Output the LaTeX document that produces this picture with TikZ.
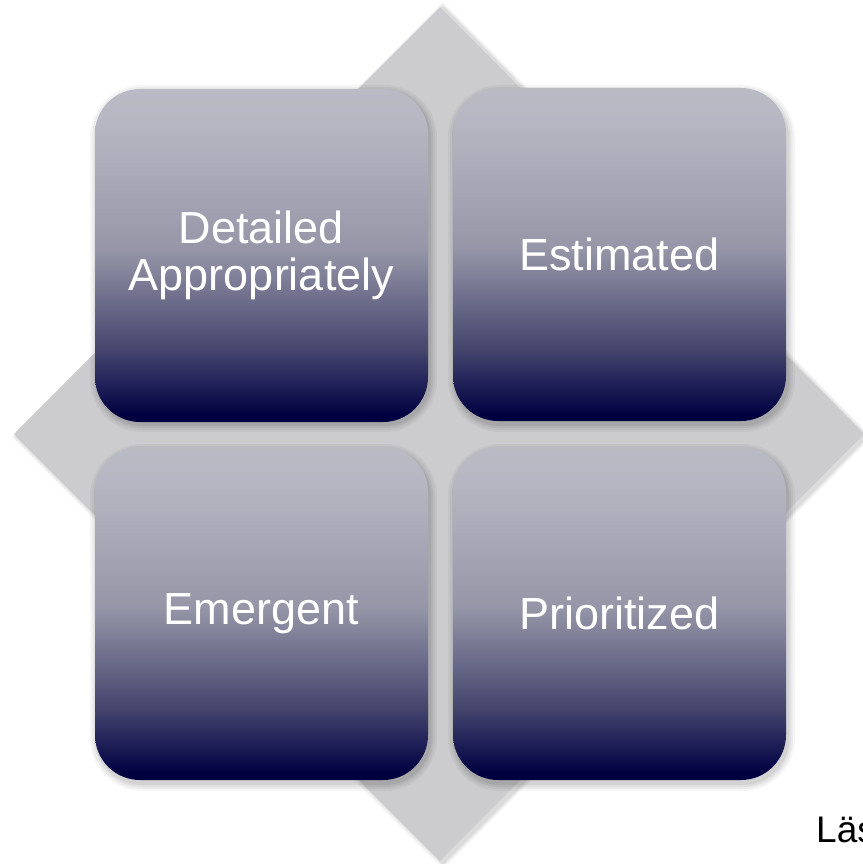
\documentclass[tikz,border=0pt]{standalone}
\usepackage{fontspec}
\setmainfont{Liberation Sans}
\definecolor{cA}{RGB}{0,0,64}
\definecolor{cB}{RGB}{35,35,90}
\definecolor{cC}{RGB}{70,70,110}
\definecolor{cD}{RGB}{110,110,140}
\definecolor{cE}{RGB}{150,150,168}
\definecolor{cF}{RGB}{183,183,195}
\definecolor{cG}{RGB}{186,186,197}
\definecolor{diamondgray}{RGB}{204,204,206}
\pgfdeclareverticalshading{boxshade}{100bp}{color(0bp)=(cA); color(25bp)=(cA); color(26bp)=(cA); color(31bp)=(cB); color(36bp)=(cC); color(43.5bp)=(cD); color(51bp)=(cE); color(70bp)=(cF); color(75bp)=(cG); color(100bp)=(cG)}
\tikzset{
  tile/.style={shading=boxshade, rounded corners=45pt, minimum width=333pt, minimum height=333pt,
    inner sep=0pt, text=white, align=center, font=\fontsize{45}{47}\selectfont},
}
\begin{document}
\begin{tikzpicture}[x=1pt,y=-1pt]
\useasboundingbox (0,0) rectangle (862,864);
% diamond shadow
\foreach \e/\o in {5/0.04,3/0.05,1/0.06}{
  \fill[black,opacity=\o] (443,7-\e) -- (867+\e,437) -- (443,864+\e) -- (17-\e,437) -- cycle;
}
\fill[diamondgray] (440,7) coordinate (dtop) -- (864,434) coordinate (dright) -- (440,861) coordinate (dbottom) -- (14,434) coordinate (dleft) -- cycle;
% tile shadows
\foreach \cx/\cy in {261.5/254.5, 619.5/254.5, 261.5/613.5, 619.5/613.5}{
  \foreach \e/\o in {7/0.035,5/0.04,3/0.05,1/0.06}{
    \fill[black,opacity=\o,rounded corners=45pt+\e pt] (\cx-166.5-\e+2,\cy-166.5-\e+4) rectangle (\cx+166.5+\e+2,\cy+166.5+\e+4);
  }
}
\node[tile] (detailed) at (261.5,255.5) {Detailed\\Appropriately};
\node[tile] (estimated) at (619.5,254.5) {Estimated};
\node[tile] (emergent) at (261.5,613.5) {Emergent};
\node[tile] (prioritized) at (619.5,613.5) {Prioritized};
\node[anchor=base west, inner sep=0pt, font=\fontsize{37}{40}\selectfont] (las) at (816,842) {Läs};
\end{tikzpicture}
\end{document}
